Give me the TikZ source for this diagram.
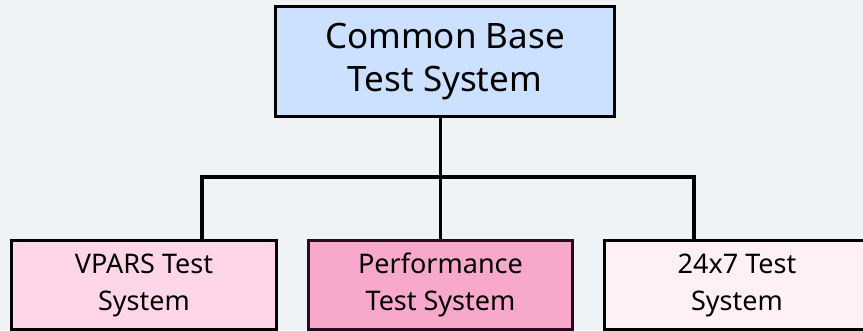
\documentclass[tikz,border=0pt]{standalone}
\usepackage{fontspec}
\setmainfont{Noto Sans}
\begin{document}
\begin{tikzpicture}[x=1pt,y=-1pt,
  box/.style={draw=black, line width=3pt, inner sep=0pt, align=center,
    minimum width=265pt, minimum height=89pt, anchor=north west,
    font=\fontsize{27}{37}\selectfont},
  wire/.style={line width=3.5pt}]
  \definecolor{bg}{HTML}{EFF3F6}
  \definecolor{topfill}{HTML}{CCE0FF}
  \definecolor{lfill}{HTML}{FFD6E8}
  \definecolor{mfill}{HTML}{F7A8CB}
  \definecolor{mline}{HTML}{2A0A1A}
  \definecolor{rfill}{HTML}{FFF0F5}
  \useasboundingbox (0,0) rectangle (863,330);
  \clip (0,0) rectangle (863,330);
  \fill[bg] (0,0) rectangle (863,330);

  % root of the hierarchy
  \node[box, fill=topfill, minimum width=339pt, minimum height=110pt,
        font=\fontsize{35}{43}\selectfont] (top) at (274,5)
        {Common Base\\Test System};

  % child systems
  \node[box, fill=lfill] (vpars) at (10,239) {VPARS Test\\System};
  \node[box, fill=mfill, draw=mline, minimum width=264pt] (perf) at (307,239)
        {Performance\\Test System};
  \node[box, fill=rfill] (h24) at (603,239) {24x7 Test\\System};

  % branch points of the connector bar
  \coordinate (jl) at (202,177);
  \coordinate (jr) at (694,177);

  \draw[wire] (perf.north |- top.south) -- (perf.north);
  \draw[wire] (jl |- vpars.north) -- (jl) -- (jr) -- (jr |- h24.north);
\end{tikzpicture}
\end{document}
